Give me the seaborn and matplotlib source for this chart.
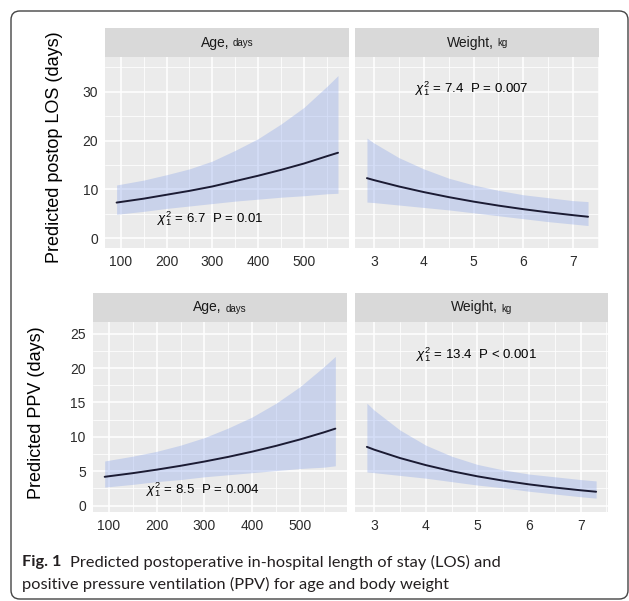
import matplotlib
matplotlib.use('Agg')
import matplotlib.pyplot as plt
import seaborn as sns
from matplotlib.offsetbox import TextArea, HPacker, AnchoredOffsetbox
from matplotlib.patches import FancyBboxPatch
from matplotlib.ticker import MultipleLocator

# values
age_x = [91, 150, 200, 250, 300, 350, 400, 450, 500, 550, 574]
weight_x = [2.86, 3.0, 3.5, 4.0, 4.5, 5.0, 5.5, 6.0, 6.5, 7.0, 7.3]

los_age_fit = [7.3, 8.1, 8.9, 9.7, 10.6, 11.7, 12.8, 14.0, 15.3, 16.8, 17.5]
los_age_lo = [4.9, 5.5, 6.1, 6.6, 7.1, 7.6, 8.0, 8.4, 8.7, 9.1, 9.2]
los_age_hi = [10.9, 11.9, 13.0, 14.2, 15.8, 18.0, 20.4, 23.4, 26.8, 31.1, 33.3]

los_wt_fit = [12.3, 11.9, 10.6, 9.45, 8.42, 7.50, 6.68, 5.95, 5.30, 4.72, 4.40]
los_wt_lo = [7.4, 7.3, 6.8, 6.3, 5.8, 5.2, 4.6, 4.0, 3.4, 2.9, 2.6]
los_wt_hi = [20.5, 19.5, 16.5, 14.2, 12.3, 10.9, 9.8, 8.9, 8.3, 7.7, 7.5]

ppv_age_fit = [4.2, 4.73, 5.24, 5.80, 6.42, 7.10, 7.86, 8.70, 9.63, 10.66, 11.2]
ppv_age_lo = [2.7, 3.1, 3.5, 3.8, 4.2, 4.5, 4.8, 5.1, 5.4, 5.6, 5.8]
ppv_age_hi = [6.5, 7.2, 7.9, 8.8, 9.9, 11.3, 12.9, 14.9, 17.3, 20.2, 21.7]

ppv_wt_fit = [8.55, 8.15, 6.93, 5.90, 5.02, 4.27, 3.64, 3.10, 2.64, 2.24, 2.03]
ppv_wt_lo = [4.9, 4.8, 4.4, 4.0, 3.5, 3.0, 2.6, 2.1, 1.7, 1.3, 1.1]
ppv_wt_hi = [14.9, 13.9, 11.0, 8.8, 7.2, 6.0, 5.2, 4.6, 4.2, 3.8, 3.6]

stats = [' = 6.7  P = 0.01', ' = 7.4  P = 0.007', ' = 8.5  P = 0.004', ' = 13.4  P < 0.001']
strip_main = ['Age,', 'Weight,']
strip_unit = ['days', 'kg']
ylabels = ['Predicted postop LOS (days)', 'Predicted PPV (days)']
caption_bold = 'Fig. 1'
caption_l1 = 'Predicted postoperative in-hospital length of stay (LOS) and'
caption_l2 = 'positive pressure ventilation (PPV) for age and body weight'

sns.set_theme(style='white')
plt.rcParams['font.family'] = ['Liberation Sans', 'DejaVu Sans']
plt.rcParams['mathtext.fontset'] = 'custom'
plt.rcParams['mathtext.rm'] = 'Liberation Sans'
plt.rcParams['mathtext.it'] = 'Liberation Sans:italic'

W, H = 629, 601
fig = plt.figure(figsize=(W / 100, H / 100), dpi=100)
fig.patch.set_facecolor('white')


def rect(x0, x1, y0, y1):
    return [x0 / W, 1 - y1 / H, (x1 - x0) / W, (y1 - y0) / H]


band_col = '#8fa8ea'
line_col = '#1b1b33'
tick_col = '#333333'

panels = [
    # x0, x1, strip top, panel top, panel bottom
    dict(px=(105, 349), py=(28, 57, 248), x=age_x, fit=los_age_fit, lo=los_age_lo, hi=los_age_hi,
         xlim=(65.7, 598), ylim=(-2.0, 37.1), xmaj=100, ymaj=10, txt=(295, 3.95), k=0, row=0),
    dict(px=(355, 599), py=(28, 57, 248), x=weight_x, fit=los_wt_fit, lo=los_wt_lo, hi=los_wt_hi,
         xlim=(2.62, 7.52), ylim=(-2.0, 37.1), xmaj=1, ymaj=10, txt=(4.97, 30.6), k=1, row=0),
    dict(px=(92.7, 346.7), py=(293, 322, 512.3), x=age_x, fit=ppv_age_fit, lo=ppv_age_lo, hi=ppv_age_hi,
         xlim=(65.9, 597.8), ylim=(-0.96, 26.7), xmaj=100, ymaj=5, txt=(297, 2.4), k=0, row=1),
    dict(px=(355, 608), py=(293, 322, 512.3), x=weight_x, fit=ppv_wt_fit, lo=ppv_wt_lo, hi=ppv_wt_hi,
         xlim=(2.63, 7.53), ylim=(-0.96, 26.7), xmaj=1, ymaj=5, txt=(4.99, 21.9), k=1, row=1),
]

for i, p in enumerate(panels):
    x0, x1 = p['px']
    s0, s1, b1 = p['py']
    ax = fig.add_axes(rect(x0, x1, s1, b1))
    ax.set_facecolor('#ebebeb')
    for sp in ax.spines.values():
        sp.set_visible(False)
    ax.xaxis.set_major_locator(MultipleLocator(p['xmaj']))
    ax.xaxis.set_minor_locator(MultipleLocator(p['xmaj'] / 2))
    ax.yaxis.set_major_locator(MultipleLocator(p['ymaj']))
    ax.yaxis.set_minor_locator(MultipleLocator(p['ymaj'] / 2))
    ax.grid(which='major', color='white', lw=1.1)
    ax.grid(which='minor', color='white', lw=0.55)
    ax.set_axisbelow(True)

    ax.fill_between(p['x'], p['lo'], p['hi'], color=band_col, alpha=0.37, lw=0)
    sns.lineplot(x=p['x'], y=p['fit'], ax=ax, color=line_col, lw=1.4)
    ax.set_xlim(*p['xlim'])
    ax.set_ylim(*p['ylim'])

    ax.tick_params(axis='both', which='major', length=3, width=0.9, color=tick_col,
                   labelsize=10, labelcolor='#2b2b2b', pad=2)
    ax.tick_params(which='minor', length=0)
    if p['k'] == 1:
        ax.tick_params(axis='y', which='both', left=False, labelleft=False)
    else:
        ax.set_ylabel(ylabels[p['row']], fontsize=13, color='black')
    ax.set_xlabel('')

    ax.text(p['txt'][0], p['txt'][1], r'$\chi^2_1$' + stats[i], ha='center', va='center',
            fontsize=9.5, color='black')

    # facet strip
    sx = fig.add_axes(rect(x0, x1, s0, s1))
    sx.set_facecolor('#d9d9d9')
    sx.set_xticks([])
    sx.set_yticks([])
    for sp in sx.spines.values():
        sp.set_visible(False)
    box = HPacker(children=[TextArea(strip_main[p['k']], textprops=dict(fontsize=10, color='#1a1a1a')),
                            TextArea(strip_unit[p['k']], textprops=dict(fontsize=7, color='#1a1a1a'))],
                  align='baseline', pad=0, sep=2.5)
    anc = AnchoredOffsetbox(loc='center', child=box, frameon=False, pad=0, borderpad=0)
    sx.add_artist(anc)

# y label positions
fig.axes[0].yaxis.set_label_coords(63 / W, 1 - 147 / H, transform=fig.transFigure)
fig.axes[4].yaxis.set_label_coords(45 / W, 1 - 413 / H, transform=fig.transFigure)

# caption
cap_font = ['Lato', 'DejaVu Sans']
cap_size = 11.8
t_bold = fig.text(22 / W, 1 - 562 / H, caption_bold, fontsize=cap_size, fontweight='bold',
                  family=cap_font, color='#231f20', va='center', ha='left')
fig.canvas.draw()
bb = t_bold.get_window_extent()
fig.text((bb.x1 + 9) / W, 1 - 562 / H, caption_l1, fontsize=cap_size, family=cap_font,
         color='#231f20', va='center', ha='left')
fig.text(22 / W, 1 - 584 / H, caption_l2, fontsize=cap_size, family=cap_font,
         color='#231f20', va='center', ha='left')

# outer rounded frame
frame = FancyBboxPatch((11 / W, 1 - 599 / H), 617 / W, 588 / H,
                       boxstyle='round,pad=0,rounding_size=0.014', transform=fig.transFigure,
                       fill=False, ec='#444444', lw=1.0, mutation_aspect=W / H)
fig.patches.append(frame)

fig.savefig('out.png', dpi=100)
